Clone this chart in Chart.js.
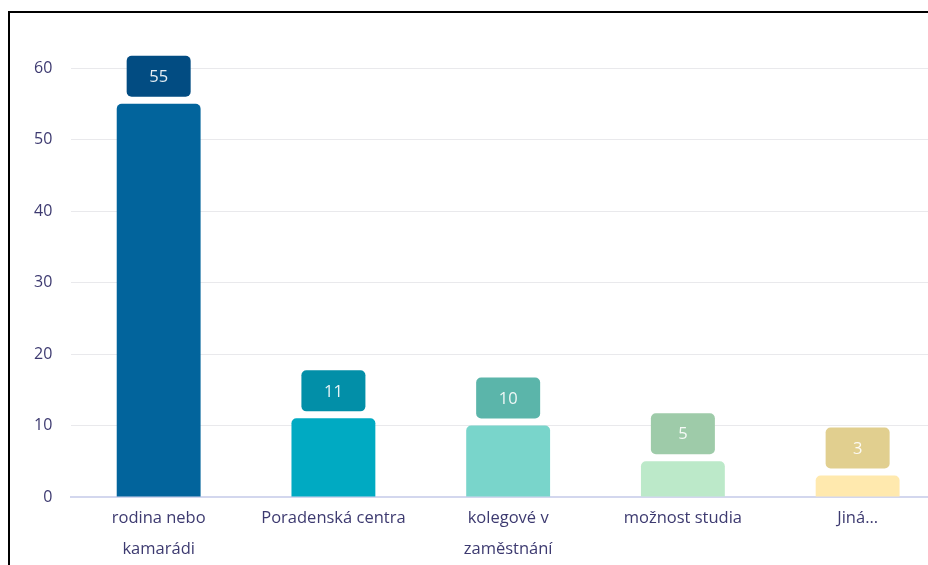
<!DOCTYPE html>
<html lang="cs">
<head>
    <meta charset="UTF-8">
    <title>Zdroje informací</title>
    <script src="https://cdn.jsdelivr.net/npm/chart.js"></script>
    <style>
        body {
            margin: 0;
            background: #fff;
            overflow: hidden;
        }
        .frame {
            position: absolute;
            left: 8px;
            top: 11px;
            width: 950px;
            height: 600px;
            border: 2px solid #000;
        }
    </style>
</head>
<body>
    <div class="frame">
        <canvas id="sourceChart" width="950" height="558"></canvas>
    </div>

    <script>
        const categories = [
            ['rodina nebo', 'kamarádi'],
            'Poradenská centra',
            ['kolegové v', 'zaměstnání'],
            'možnost studia',
            'Jiná…'
        ];
        const counts = [55, 11, 10, 5, 3];
        const barColors = ['#02649c', '#00aac2', '#79d5cb', '#bce9c9', '#ffe9ae'];
        const labelColors = ['#024c82', '#028fa8', '#5bb5aa', '#9ecba9', '#e1cf8f'];
        const yTicks = [0, 10, 20, 30, 40, 50, 60];

        const textColor = '#3d3a70';
        const fontFamily = '"Open Sans", sans-serif';

        // value boxes above each bar
        const valueBoxes = {
            id: 'valueBoxes',
            afterDatasetsDraw(chart) {
                const ctx = chart.ctx;
                const meta = chart.getDatasetMeta(0);
                ctx.save();
                meta.data.forEach((bar, i) => {
                    const w = 64, h = 41, gap = 7;
                    const x = bar.x - w / 2;
                    const y = bar.y - gap - h;
                    ctx.fillStyle = labelColors[i];
                    ctx.beginPath();
                    ctx.roundRect(x, y, w, h, 5);
                    ctx.fill();
                    ctx.fillStyle = 'rgba(255,255,255,0.9)';
                    ctx.font = '16.5px ' + fontFamily;
                    ctx.textAlign = 'center';
                    ctx.textBaseline = 'middle';
                    ctx.fillText(String(counts[i]), bar.x, y + h / 2 + 1);
                });
                ctx.restore();
            }
        };

        new Chart(document.getElementById('sourceChart'), {
            type: 'bar',
            data: {
                labels: categories,
                datasets: [{
                    data: counts,
                    backgroundColor: barColors,
                    borderRadius: { topLeft: 5, topRight: 5 },
                    borderSkipped: 'bottom',
                    categoryPercentage: 1,
                    barPercentage: 0.48
                }]
            },
            options: {
                responsive: false,
                animation: false,
                layout: {
                    padding: { left: 5, right: 15, top: 55, bottom: 0 }
                },
                plugins: {
                    legend: { display: false },
                    tooltip: { enabled: false }
                },
                scales: {
                    x: {
                        grid: { display: false, drawTicks: false },
                        border: { color: '#d3d7ee', width: 2 },
                        ticks: {
                            color: textColor,
                            font: { family: fontFamily, size: 16.5, lineHeight: '31px' },
                            padding: 6,
                            maxRotation: 0,
                            autoSkip: false
                        }
                    },
                    y: {
                        min: 0,
                        max: 60,
                        afterBuildTicks: axis => {
                            axis.ticks = yTicks.map(v => ({ value: v }));
                        },
                        grid: { color: '#e9e9ec', drawTicks: false },
                        border: { display: false },
                        ticks: {
                            color: textColor,
                            font: { family: fontFamily, size: 16 },
                            padding: 19
                        }
                    }
                }
            },
            plugins: [valueBoxes]
        });
    </script>
</body>
</html>
